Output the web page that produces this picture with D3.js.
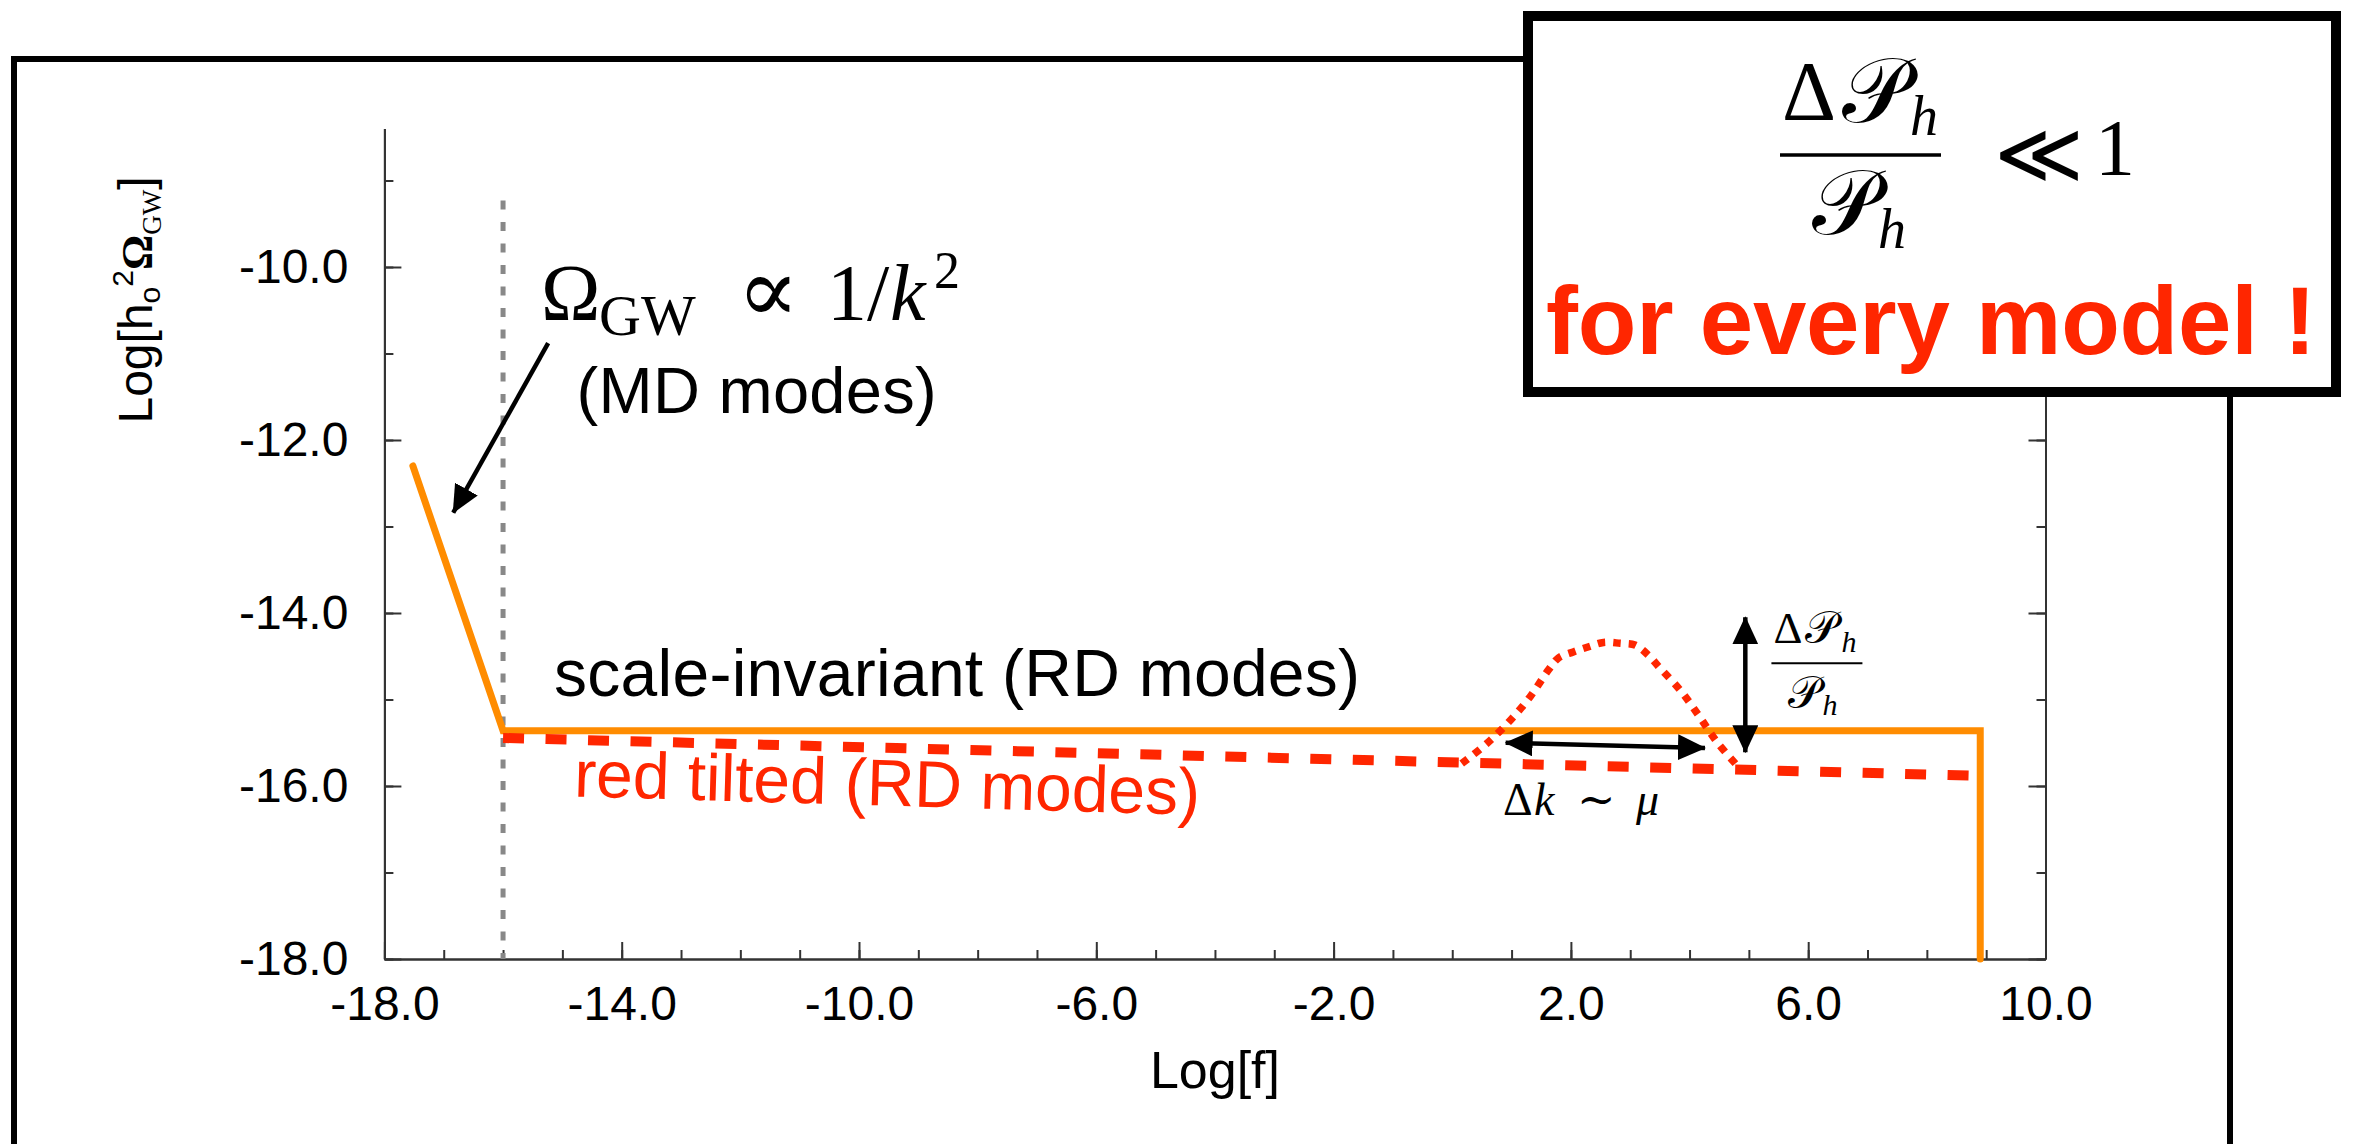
<!DOCTYPE html>
<meta charset="utf-8">
<style>
    body { margin: 0; background: #ffffff; }
    svg text { font-family: "Liberation Sans", Arial, Helvetica, sans-serif; }
    .math { font-family: "Liberation Serif", "DejaVu Serif", serif; }
    .sym { font-family: "DejaVu Serif", "DejaVu Sans", serif; }
</style>

<!-- Load d3.js -->
<script src="https://d3js.org/d3.v7.min.js"></script>

<div id="graph"></div>

<script>
    // ---- data (Log[f] , Log[h0^2 Omega_GW]) ----
    // scale-invariant spectrum : MD branch (1/k^2), RD plateau, cut-off
    var orangeLogF = [-17.52, -16.0, 8.9, 8.9];
    var orangeLogOmega = [-12.30, -15.36, -15.36, -18.0];

    // red tilted spectrum (RD modes)
    var redLogF = [-16.0, 8.75];
    var redLogOmega = [-15.445, -15.88];

    // localized bump on top of the red tilted spectrum
    var bumpLogF = [0.16, 0.58, 0.98, 1.31, 1.62, 1.79, 2.04, 2.30, 2.55, 2.83, 3.08, 3.31, 3.48, 3.84, 4.15, 4.46, 4.85];
    var bumpLogOmega = [-15.74, -15.51, -15.24, -14.97, -14.66, -14.52, -14.45, -14.39, -14.34, -14.35, -14.37, -14.49, -14.62, -14.89, -15.18, -15.49, -15.80];

    // matter / radiation boundary (grey dashed)
    var boundaryLogF = -16.0;
    var boundaryTop = -9.23;

    // axes
    var xDomain = [-18, 10];
    var yDomain = [-18, -8.4];
    var xLabelTicks = [-18, -14, -10, -6, -2, 2, 6, 10];
    var yLabelTicks = [-18, -16, -14, -12, -10];

    var orange = "#ff8c00";
    var red = "#ff2600";
    var calP = "\uD835\uDCAB"; // script capital P

    var W = 2357, H = 1144;

    var svg = d3.select("#graph")
        .append("svg")
        .attr("width", W)
        .attr("height", H);

    var x = d3.scaleLinear().domain(xDomain).range([384.4, 2045.5]);
    var y = d3.scaleLinear().domain(yDomain).range([959, 959 - 86.5 * (yDomain[1] - yDomain[0])]);

    // outer frame (runs off the bottom of the picture)
    svg.append("rect")
        .attr("x", 14).attr("y", 59)
        .attr("width", 2216).attr("height", 1300)
        .attr("fill", "none")
        .attr("stroke", "black")
        .attr("stroke-width", 6);

    function styleAxis(g) {
        g.attr("font-size", 48)
            .attr("font-family", "Liberation Sans, Arial, sans-serif");
        g.selectAll("line, path").attr("stroke", "#333").attr("stroke-width", 2);
        g.selectAll("text").attr("fill", "black");
    }
    var fmt = function (d) { return d.toFixed(1); };

    // minor ticks, every unit, pointing inwards
    svg.append("g")
        .attr("transform", "translate(0," + y(yDomain[0]) + ")")
        .call(d3.axisBottom(x).tickValues(d3.range(-18, 11, 1)).tickSizeInner(-9).tickSizeOuter(0).tickFormat(""))
        .call(styleAxis);
    svg.append("g")
        .attr("transform", "translate(" + x(xDomain[0]) + ",0)")
        .call(d3.axisLeft(y).tickValues(d3.range(-18, -8, 1)).tickSizeInner(-9).tickSizeOuter(0).tickFormat(""))
        .call(styleAxis);
    svg.append("g")
        .attr("transform", "translate(" + x(xDomain[1]) + ",0)")
        .call(d3.axisRight(y).tickValues(d3.range(-18, -8, 1)).tickSizeInner(-9).tickSizeOuter(0).tickFormat(""))
        .call(styleAxis);

    // major (labelled) ticks
    svg.append("g")
        .attr("transform", "translate(0," + y(yDomain[0]) + ")")
        .call(d3.axisBottom(x).tickValues(xLabelTicks).tickSizeInner(-17).tickSizeOuter(0).tickPadding(27).tickFormat(fmt))
        .call(styleAxis);
    svg.append("g")
        .attr("transform", "translate(" + x(xDomain[0]) + ",0)")
        .call(d3.axisLeft(y).tickValues(yLabelTicks).tickSizeInner(-17).tickSizeOuter(0).tickPadding(36).tickFormat(fmt))
        .call(styleAxis);
    svg.append("g")
        .attr("transform", "translate(" + x(xDomain[1]) + ",0)")
        .call(d3.axisRight(y).tickValues(yLabelTicks).tickSizeInner(-17).tickSizeOuter(0).tickFormat(""))
        .call(styleAxis);

    // axis titles
    svg.append("text")
        .attr("x", (x(xDomain[0]) + x(xDomain[1])) / 2)
        .attr("y", 1088)
        .attr("text-anchor", "middle")
        .attr("font-size", 52)
        .text("Log[f]");

    var yt = svg.append("text")
        .attr("transform", "translate(152,300) rotate(-90)")
        .attr("text-anchor", "middle")
        .attr("font-size", 48);
    yt.append("tspan").text("Log[h");
    yt.append("tspan").attr("font-size", 30).attr("dy", 8).text("o");
    yt.append("tspan").attr("font-size", 30).attr("dy", -27).text("2");
    yt.append("tspan").attr("class", "math").attr("font-weight", "bold").attr("font-size", 44).attr("dy", 19).text("Ω");
    yt.append("tspan").attr("class", "math").attr("font-size", 27).attr("dy", 9).text("GW");
    yt.append("tspan").attr("dy", -9).text("]");

    var line = d3.line()
        .x(function (d) { return x(d[0]); })
        .y(function (d) { return y(d[1]); });

    // grey dashed boundary
    svg.append("line")
        .attr("x1", x(boundaryLogF)).attr("x2", x(boundaryLogF))
        .attr("y1", y(boundaryTop)).attr("y2", y(yDomain[0]))
        .attr("stroke", "#888")
        .attr("stroke-width", 5)
        .attr("stroke-dasharray", "9,12.5");

    // scale-invariant spectrum
    svg.append("path")
        .datum(d3.zip(orangeLogF, orangeLogOmega))
        .attr("d", line)
        .attr("fill", "none")
        .attr("stroke", orange)
        .attr("stroke-width", 7)
        .attr("stroke-linecap", "round");

    // red tilted spectrum
    svg.append("path")
        .datum(d3.zip(redLogF, redLogOmega))
        .attr("d", line)
        .attr("fill", "none")
        .attr("stroke", red)
        .attr("stroke-width", 10)
        .attr("stroke-dasharray", "21,21.5");

    // bump
    svg.append("path")
        .datum(d3.zip(bumpLogF, bumpLogOmega))
        .attr("d", line.curve(d3.curveCatmullRom))
        .attr("fill", "none")
        .attr("stroke", red)
        .attr("stroke-width", 7.5)
        .attr("stroke-dasharray", "7.5,8");

    // arrow heads
    var defs = svg.append("defs");
    defs.append("marker")
        .attr("id", "head")
        .attr("viewBox", "0 0 28 26")
        .attr("refX", 27).attr("refY", 13)
        .attr("markerWidth", 28).attr("markerHeight", 26)
        .attr("markerUnits", "userSpaceOnUse")
        .attr("orient", "auto-start-reverse")
        .append("path")
        .attr("d", "M0,0 L28,13 L0,26 Z")
        .attr("fill", "black");

    function arrow(x1, y1, x2, y2, both) {
        var a = svg.append("line")
            .attr("x1", x(x1)).attr("y1", y(y1))
            .attr("x2", x(x2)).attr("y2", y(y2))
            .attr("stroke", "black")
            .attr("stroke-width", 4.5)
            .attr("marker-end", "url(#head)");
        if (both) a.attr("marker-start", "url(#head)");
    }
    arrow(-15.24, -10.88, -16.84, -12.84, false);
    arrow(0.90, -15.50, 4.26, -15.56, true);
    arrow(4.94, -14.05, 4.94, -15.61, true);

    // ---- annotations ----
    var ox = x(-15.36), oy = y(-10.61);
    var om = svg.append("text").attr("class", "math").attr("font-size", 80);
    om.append("tspan").attr("x", ox).attr("y", oy).text("Ω");
    om.append("tspan").attr("x", ox + 58).attr("y", oy + 15).attr("font-size", 58).text("GW");
    om.append("tspan").attr("x", ox + 196).attr("y", oy + 2).attr("class", "sym").attr("font-size", 92).text("∝");
    om.append("tspan").attr("x", ox + 286).attr("y", oy).text("1/");
    om.append("tspan").attr("x", ox + 349).attr("y", oy).attr("font-style", "italic").text("k");
    om.append("tspan").attr("x", ox + 393).attr("y", oy - 32).attr("font-size", 52).text("2");

    svg.append("text")
        .attr("x", x(-14.76)).attr("y", y(-11.69))
        .attr("font-size", 65)
        .attr("textLength", 360)
        .text("(MD modes)");

    svg.append("text")
        .attr("x", x(-15.14)).attr("y", y(-14.96))
        .attr("font-size", 66)
        .attr("textLength", 806)
        .text("scale-invariant (RD modes)");

    svg.append("text")
        .attr("transform", "translate(" + x(-14.81) + "," + y(-16.12) + ") rotate(1.7)")
        .attr("font-size", 66)
        .attr("textLength", 626)
        .attr("fill", red)
        .text("red tilted (RD modes)");

    // delta k ~ mu
    var dx0 = x(0.857), dy0 = y(-16.34);
    var dk = svg.append("text").attr("class", "math").attr("font-size", 46);
    dk.append("tspan").attr("x", dx0).attr("y", dy0).text("Δ");
    dk.append("tspan").attr("x", dx0 + 31).attr("y", dy0).attr("font-style", "italic").text("k");
    dk.append("tspan").attr("x", dx0 + 74).attr("y", dy0).attr("class", "sym").text("∼");
    dk.append("tspan").attr("x", dx0 + 133).attr("y", dy0).attr("font-style", "italic").text("μ");

    // small fraction next to the vertical arrow
    var fx = x(5.38), fb = y(-14.58);
    var fr = svg.append("text").attr("class", "math").attr("font-size", 45);
    fr.append("tspan").attr("x", fx + 2).attr("y", fb - 20).text("Δ");
    fr.append("tspan").attr("x", fx + 34).attr("y", fb - 20).attr("class", "sym").text(calP);
    fr.append("tspan").attr("x", fx + 70).attr("y", fb - 11).attr("font-size", 30).attr("font-style", "italic").text("h");
    fr.append("tspan").attr("x", fx + 17).attr("y", fb + 45).attr("class", "sym").text(calP);
    fr.append("tspan").attr("x", fx + 51).attr("y", fb + 52).attr("font-size", 30).attr("font-style", "italic").text("h");
    svg.append("line")
        .attr("x1", fx).attr("x2", fx + 91)
        .attr("y1", fb).attr("y2", fb)
        .attr("stroke", "black").attr("stroke-width", 2);

    // ---- boxed statement ----
    svg.append("rect")
        .attr("x", 1528).attr("y", 16)
        .attr("width", 808).attr("height", 376)
        .attr("fill", "white")
        .attr("stroke", "black")
        .attr("stroke-width", 10);

    var bx = svg.append("text").attr("class", "math").attr("font-size", 84);
    bx.append("tspan").attr("x", 1782).attr("y", 120).text("Δ");
    bx.append("tspan").attr("x", 1842).attr("y", 122).attr("class", "sym").attr("font-size", 92).text(calP);
    bx.append("tspan").attr("x", 1910).attr("y", 135).attr("font-size", 56).attr("font-style", "italic").text("h");
    bx.append("tspan").attr("x", 1812).attr("y", 234).attr("class", "sym").attr("font-size", 92).text(calP);
    bx.append("tspan").attr("x", 1878).attr("y", 248).attr("font-size", 56).attr("font-style", "italic").text("h");
    bx.append("tspan").attr("x", 1994).attr("y", 183).attr("class", "sym").attr("font-size", 86).text("≪");
    bx.append("tspan").attr("x", 2095).attr("y", 175).attr("font-size", 80).text("1");
    svg.append("line")
        .attr("x1", 1780).attr("x2", 1941)
        .attr("y1", 155).attr("y2", 155)
        .attr("stroke", "black").attr("stroke-width", 3.5);

    svg.append("text")
        .attr("x", 1546).attr("y", 354)
        .attr("font-size", 96)
        .attr("font-weight", "bold")
        .attr("textLength", 770)
        .attr("fill", red)
        .text("for every model !");
</script>
